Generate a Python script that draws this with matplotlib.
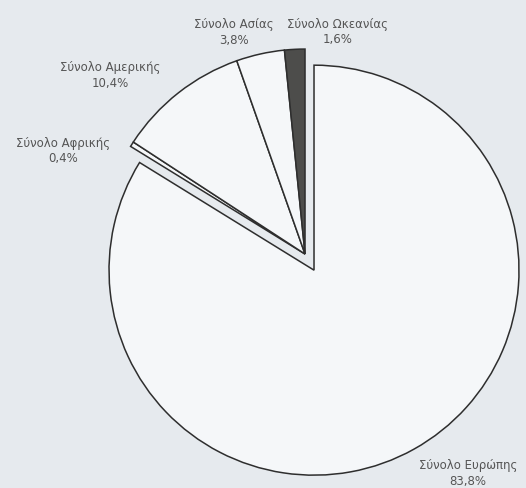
import numpy as np
import matplotlib.pyplot as plt

# continent shares, clockwise from 12 o'clock
labels = ['Σύνολο Ευρώπης', 'Σύνολο Αφρικής', 'Σύνολο Αμερικής', 'Σύνολο Ασίας', 'Σύνολο Ωκεανίας']
values = [83.8, 0.4, 10.4, 3.8, 1.6]
pct_text = ['83,8%', '0,4%', '10,4%', '3,8%', '1,6%']

fills = ['#f5f7f9', '#f5f7f9', '#f5f7f9', '#f5f7f9', '#4d4d4b']
explode = [0.09, 0, 0, 0, 0]
# label placement (angle in degrees, distance in radii) around each wedge centre
label_angle = [-52.8, 156.7, 137.3, 107.7, 81.6]
label_dist = [1.24, 1.285, 1.29, 1.14, 1.10]

bg = '#e6eaee'
fig = plt.figure(figsize=(5.26, 4.89), dpi=100, facecolor=bg)
ax = fig.add_axes([0, 0, 1, 1])
ax.set_facecolor(bg)

wedges, _ = ax.pie(values, startangle=90, counterclock=False, explode=explode,
                   colors=fills, radius=1,
                   wedgeprops=dict(edgecolor='#2e2e2e', linewidth=1.1))

for i, w in enumerate(wedges):
    a = np.deg2rad(label_angle[i])
    cx, cy = w.center
    x = cx + label_dist[i] * np.cos(a)
    y = cy + label_dist[i] * np.sin(a)
    ax.text(x, y, labels[i] + '\n' + pct_text[i], ha='center', va='center',
            fontsize=8.5, color='#555555', linespacing=1.25)

ax.set_xlim(-1.488, 1.078)
ax.set_ylim(-1.141, 1.244)
ax.set_aspect('equal')
ax.axis('off')

fig.savefig('out.png', dpi=100, facecolor=bg)
